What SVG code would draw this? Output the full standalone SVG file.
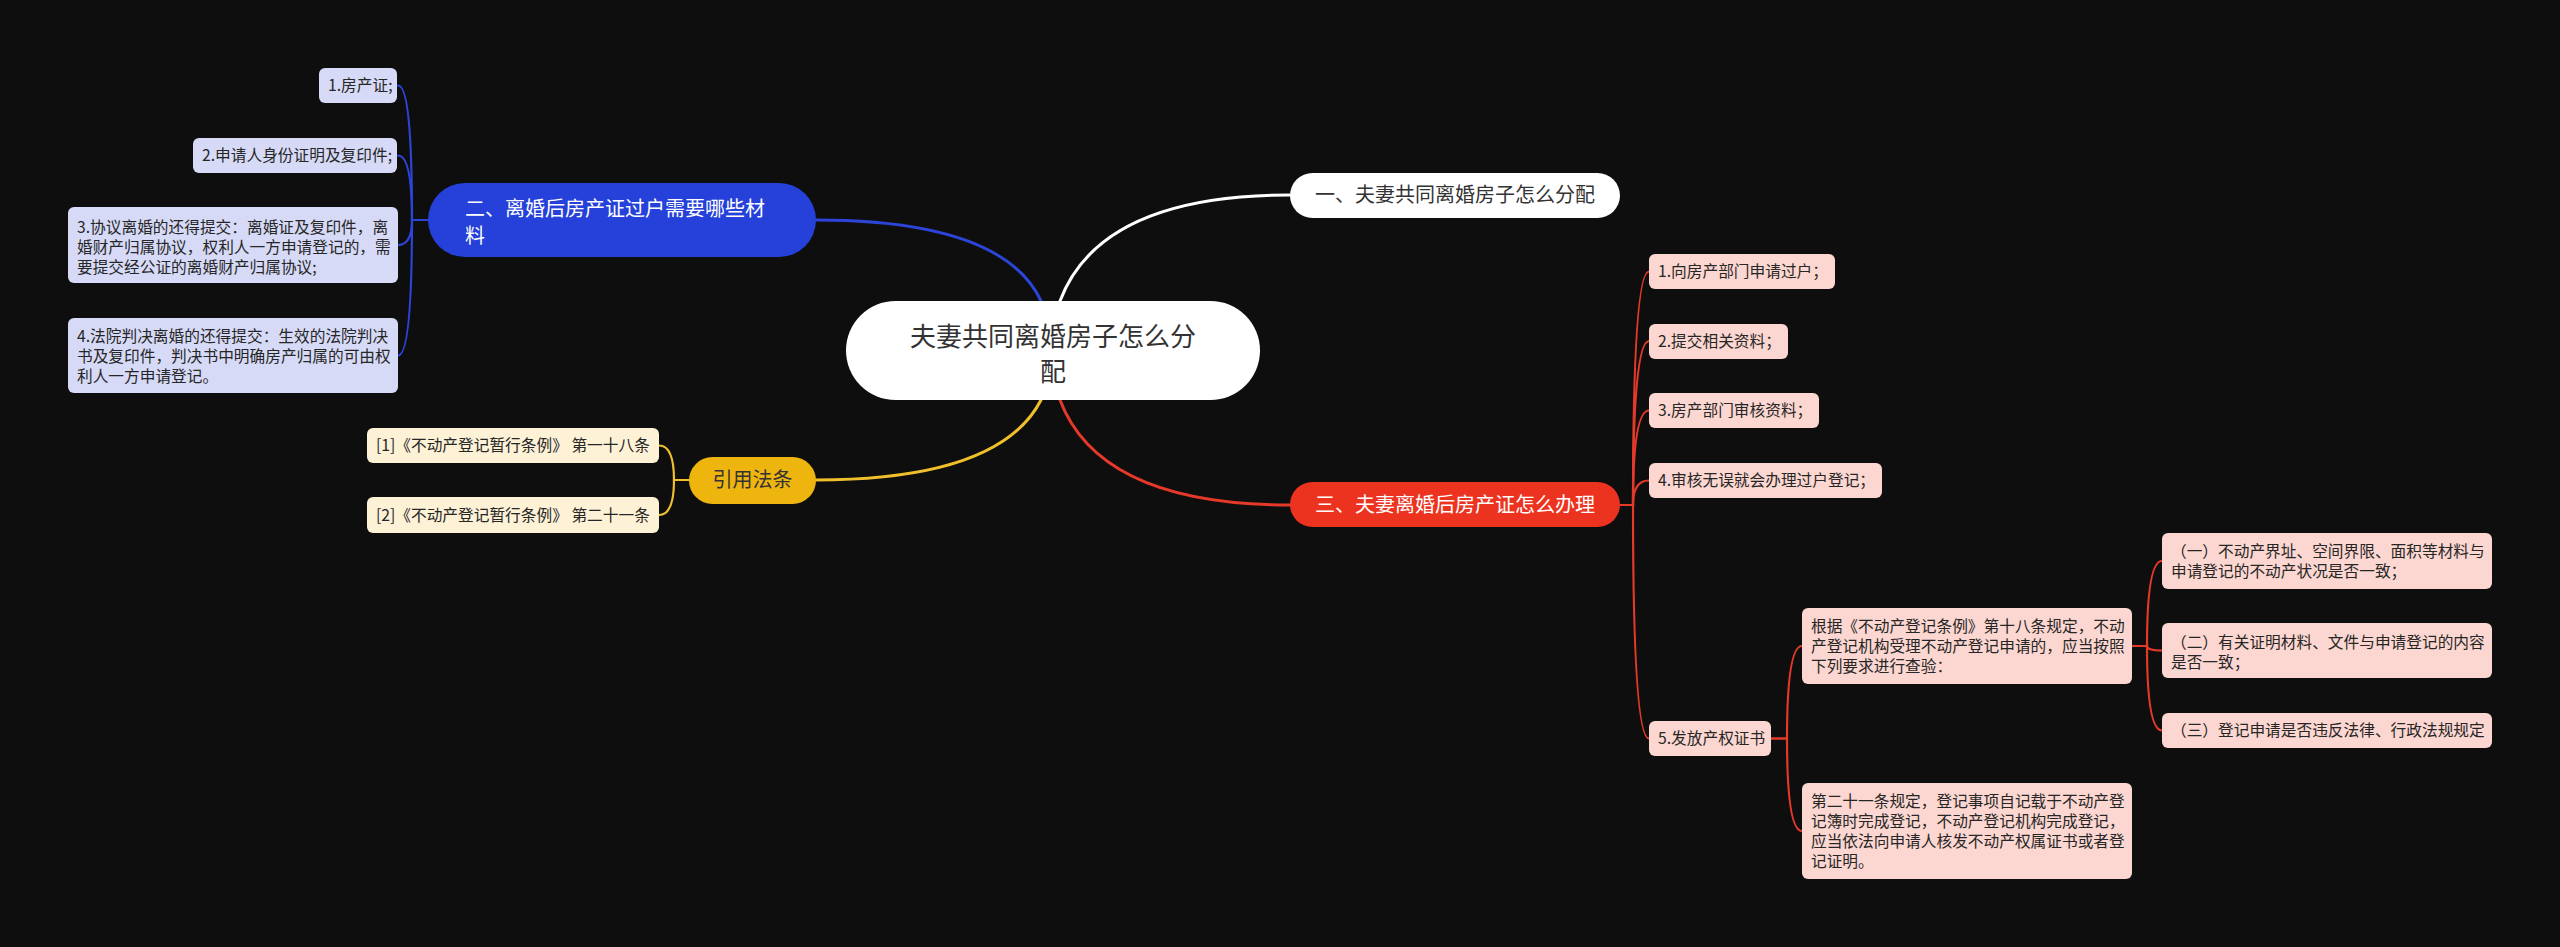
<svg xmlns="http://www.w3.org/2000/svg" width="2560" height="947" viewBox="0 0 2560 947">
<style>
text{font-family:"Noto Sans CJK SC","Noto Sans",sans-serif;}
.c{fill:none;stroke-linecap:round;}
.main{stroke-width:3;}
.sub{stroke-width:2.2;}
.lb{stroke:#2c45d8;}
.ly{stroke:#f0c02c;}
.lr{stroke:#e5392a;}
.lw{stroke:#ffffff;}
.leaf{font-size:15.7px;fill:#262626;}
.t20{font-size:20px;}
.bl{fill:#d6daf7;}
.yl{fill:#fdf1d6;}
.rl{fill:#fcd6d0;}
</style>
<rect x="0" y="0" width="2560" height="947" fill="#0e0e0e"/>
<g id="connectors">
<path class="c main lw" d="M1060,301 Q1100,195 1290,195"/>
<path class="c main lb" d="M1041,301 Q1003,220 816,220"/>
<path class="c main ly" d="M1041,400 Q1000,480 816,480"/>
<path class="c main lr" d="M1060,400 Q1100,505 1290,505"/>
<path class="c sub lb" d="M428,220 L412,220 Q412,85.5 398,85.5"/>
<path class="c sub lb" d="M428,220 L412,220 Q412,155.5 398,155.5"/>
<path class="c sub lb" d="M428,220 L412,220 Q412,245 398,245"/>
<path class="c sub lb" d="M428,220 L412,220 Q412,355.5 398,355.5"/>
<path class="c sub ly" d="M689,480 L674,480 Q674,445.5 659,445.5"/>
<path class="c sub ly" d="M689,480 L674,480 Q674,515 659,515"/>
<path class="c sub lr" d="M1620,505 L1633,505 Q1633,271.5 1649,271.5"/>
<path class="c sub lr" d="M1620,505 L1633,505 Q1633,341 1649,341"/>
<path class="c sub lr" d="M1620,505 L1633,505 Q1633,410.5 1649,410.5"/>
<path class="c sub lr" d="M1620,505 L1633,505 Q1633,480.5 1649,480.5"/>
<path class="c sub lr" d="M1620,505 L1633,505 Q1633,738.5 1649,738.5"/>
<path class="c sub lr" d="M1771,738.5 L1787,738.5 Q1787,646 1802,646"/>
<path class="c sub lr" d="M1771,738.5 L1787,738.5 Q1787,831 1802,831"/>
<path class="c sub lr" d="M2132,646 L2147,646 Q2147,561 2162,561"/>
<path class="c sub lr" d="M2132,646 L2147,646 Q2147,650.5 2162,650.5"/>
<path class="c sub lr" d="M2132,646 L2147,646 Q2147,730.5 2162,730.5"/>
</g>
<g id="center">
<rect x="846" y="301" width="414" height="99" rx="49.5" fill="#ffffff"/>
<text x="1053" y="346" font-size="26" fill="#333333" text-anchor="middle">夫妻共同离婚房子怎么分</text>
<text x="1053" y="381" font-size="26" fill="#333333" text-anchor="middle">配</text>
</g>
<g id="n1">
<rect x="1290" y="173" width="330" height="45" rx="22.5" fill="#ffffff"/>
<text class="t20" x="1455" y="202" fill="#333333" text-anchor="middle">一、夫妻共同离婚房子怎么分配</text>
</g>
<g id="n2">
<rect x="428" y="183" width="388" height="74" rx="37" fill="#2541d9"/>
<text class="t20" x="465" y="216" fill="#ffffff">二、离婚后房产证过户需要哪些材</text>
<text class="t20" x="465" y="243" fill="#ffffff">料</text>
</g>
<g id="n2-1">
<rect class="bl" x="319" y="68" width="78" height="35" rx="6"/>
<text class="leaf" x="328" y="91">1.房产证;</text>
</g>
<g id="n2-2">
<rect class="bl" x="193" y="138" width="204" height="35" rx="6"/>
<text class="leaf" x="202" y="161">2.申请人身份证明及复印件;</text>
</g>
<g id="n2-3">
<rect class="bl" x="68" y="207" width="330" height="76" rx="6"/>
<text class="leaf" x="77" y="233">3.协议离婚的还得提交：离婚证及复印件，离</text>
<text class="leaf" x="77" y="253">婚财产归属协议，权利人一方申请登记的，需</text>
<text class="leaf" x="77" y="273">要提交经公证的离婚财产归属协议;</text>
</g>
<g id="n2-4">
<rect class="bl" x="68" y="318" width="330" height="75" rx="6"/>
<text class="leaf" x="77" y="342">4.法院判决离婚的还得提交：生效的法院判决</text>
<text class="leaf" x="77" y="362">书及复印件，判决书中明确房产归属的可由权</text>
<text class="leaf" x="77" y="382">利人一方申请登记。</text>
</g>
<g id="n4">
<rect x="689" y="457" width="127" height="47" rx="23.5" fill="#efb50f"/>
<text class="t20" x="752.5" y="487" fill="#333333" text-anchor="middle">引用法条</text>
</g>
<g id="n4-1">
<rect class="yl" x="367" y="428" width="292" height="35" rx="6"/>
<text class="leaf" x="376" y="451">[1]《不动产登记暂行条例》 第一十八条</text>
</g>
<g id="n4-2">
<rect class="yl" x="367" y="497" width="292" height="36" rx="6"/>
<text class="leaf" x="376" y="521">[2]《不动产登记暂行条例》 第二十一条</text>
</g>
<g id="n3">
<rect x="1290" y="482" width="330" height="45" rx="22.5" fill="#ec3320"/>
<text class="t20" x="1455" y="512" fill="#ffffff" text-anchor="middle">三、夫妻离婚后房产证怎么办理</text>
</g>
<g id="n3-1">
<rect class="rl" x="1649" y="254" width="186" height="35" rx="6"/>
<text class="leaf" x="1658" y="277">1.向房产部门申请过户；</text>
</g>
<g id="n3-2">
<rect class="rl" x="1649" y="324" width="139" height="35" rx="6"/>
<text class="leaf" x="1658" y="346.5">2.提交相关资料；</text>
</g>
<g id="n3-3">
<rect class="rl" x="1649" y="393" width="170" height="35" rx="6"/>
<text class="leaf" x="1658" y="416">3.房产部门审核资料；</text>
</g>
<g id="n3-4">
<rect class="rl" x="1649" y="463" width="233" height="35" rx="6"/>
<text class="leaf" x="1658" y="486">4.审核无误就会办理过户登记；</text>
</g>
<g id="n3-5">
<rect class="rl" x="1649" y="721" width="122" height="35" rx="6"/>
<text class="leaf" x="1658" y="744">5.发放产权证书</text>
</g>
<g id="n3-5-1">
<rect class="rl" x="1802" y="608" width="330" height="76" rx="6"/>
<text class="leaf" x="1811" y="632">根据《不动产登记条例》第十八条规定，不动</text>
<text class="leaf" x="1811" y="652">产登记机构受理不动产登记申请的，应当按照</text>
<text class="leaf" x="1811" y="672">下列要求进行查验：</text>
</g>
<g id="n3-5-2">
<rect class="rl" x="1802" y="783" width="330" height="96" rx="6"/>
<text class="leaf" x="1811" y="807">第二十一条规定，登记事项自记载于不动产登</text>
<text class="leaf" x="1811" y="827">记簿时完成登记，不动产登记机构完成登记，</text>
<text class="leaf" x="1811" y="847">应当依法向申请人核发不动产权属证书或者登</text>
<text class="leaf" x="1811" y="867">记证明。</text>
</g>
<g id="n3-5-1-1">
<rect class="rl" x="2162" y="533" width="330" height="56" rx="6"/>
<text class="leaf" x="2171" y="557">（一）不动产界址、空间界限、面积等材料与</text>
<text class="leaf" x="2171" y="577">申请登记的不动产状况是否一致；</text>
</g>
<g id="n3-5-1-2">
<rect class="rl" x="2162" y="623" width="330" height="55" rx="6"/>
<text class="leaf" x="2171" y="647.5">（二）有关证明材料、文件与申请登记的内容</text>
<text class="leaf" x="2171" y="667.5">是否一致；</text>
</g>
<g id="n3-5-1-3">
<rect class="rl" x="2162" y="713" width="330" height="35" rx="6"/>
<text class="leaf" x="2171" y="736">（三）登记申请是否违反法律、行政法规规定</text>
</g>
</svg>
